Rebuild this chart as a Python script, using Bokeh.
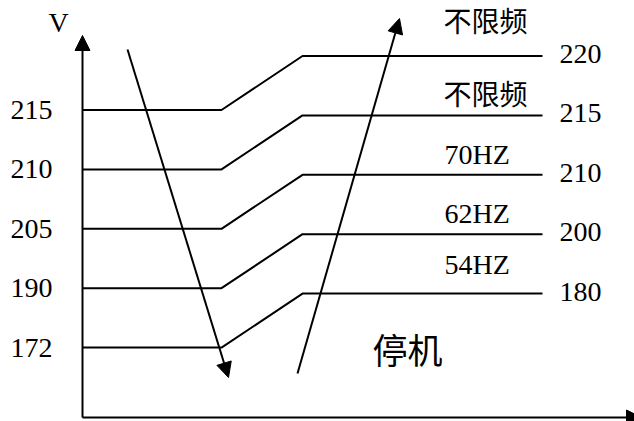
from bokeh.plotting import figure
from bokeh.models import ColumnDataSource, Arrow, NormalHead, Range1d
from bokeh.core.properties import value
from bokeh.embed import file_html
from bokeh.resources import INLINE

# ---- data ----
left_levels = ["215", "210", "205", "190", "172"]
right_levels = ["220", "215", "210", "200", "180"]
freq_labels = ["不限频", "不限频", "70HZ", "62HZ", "54HZ"]
axis_label = "V"
stop_label = "停机"

# ---- layout (schematic coordinates, y grows downward) ----
W, H = 634, 421
row_top, row_gap, step_up = 109.5, 59.4, 54.0
x_axis, x_ramp0, x_ramp1, x_end = 82, 221, 302, 542
label_gap = [36, 22, 20, 21, 29]
SERIF = value("Liberation Serif")
CJK = value("Noto Sans CJK SC")

rows = list(range(len(left_levels)))
y_left = [row_top + i * row_gap for i in rows]
y_right = [y - step_up for y in y_left]

p = figure(width=W, height=H, x_range=Range1d(0, W), y_range=Range1d(H, 0),
           toolbar_location=None, output_backend="svg", min_border=0,
           background_fill_color="white", border_fill_color="white")
p.axis.visible = False
p.grid.visible = False
p.outline_line_color = None

# step lines
xs = [[x_axis, x_ramp0, x_ramp1, x_end] for _ in rows]
ys = [[yl, yl, yr, yr] for yl, yr in zip(y_left, y_right)]
p.multi_line(xs=xs, ys=ys, line_color="black", line_width=2)

def texts(x, y, t, size, font):
    src = ColumnDataSource(dict(x=x, y=y, t=t))
    p.text(x="x", y="y", text="t", source=src, text_font_size=size,
           text_baseline="middle", text_align="left", text_color="black",
           text_font=font)

texts([10] * len(rows), y_left, left_levels, "28px", SERIF)
texts([559] * len(rows), [y - 2 for y in y_right], right_levels, "28px", SERIF)

is_cjk = [any(ord(c) > 0x2000 for c in t) for t in freq_labels]
lat = [i for i in rows if not is_cjk[i]]
cj = [i for i in rows if is_cjk[i]]
texts([444] * len(lat), [y_right[i] - label_gap[i] for i in lat],
      [freq_labels[i] for i in lat], "28px", SERIF)
texts([443] * len(cj), [y_right[i] - label_gap[i] for i in cj],
      [freq_labels[i] for i in cj], "28px", CJK)

texts([48], [22], [axis_label], "28px", SERIF)
texts([372], [348], [stop_label], "35px", CJK)

# arrows (axes and trends)
def arrow(x0, y0, x1, y1):
    p.add_layout(Arrow(end=NormalHead(size=15, fill_color="black", line_color="black"),
                       x_start=x0, y_start=y0, x_end=x1, y_end=y1,
                       line_color="black", line_width=2))

arrow(x_axis, 417, x_axis, 35)
arrow(x_axis, 417, 641, 417)
arrow(127, 49, 228, 377)
arrow(297, 373, 399, 18)

open("out.html", "w").write(file_html(p, INLINE))
